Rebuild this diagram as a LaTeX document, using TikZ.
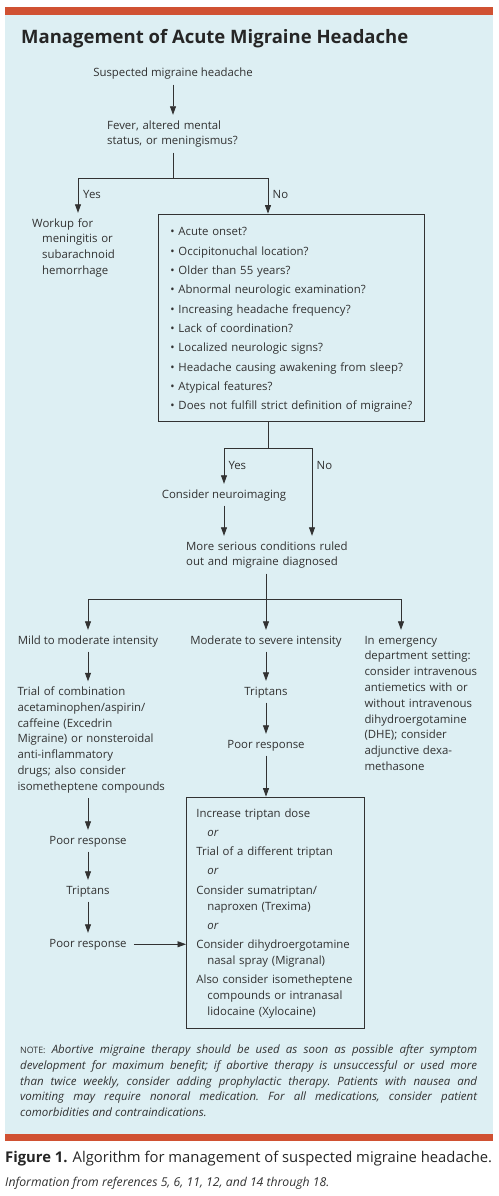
\documentclass[tikz,border=0pt]{standalone}
\usepackage{fontspec}
\setmainfont{Open Sans}
\usetikzlibrary{arrows.meta,positioning}

\definecolor{barred}{RGB}{208,81,50}
\definecolor{panel}{RGB}{221,239,243}
\definecolor{ink}{RGB}{50,50,50}

\newcommand{\bodysize}{\fontsize{11.4}{15.8}\selectfont}

\tikzset{
    inked/.style = {inner sep=0pt, text=ink, font=\bodysize},
    word/.style = {inked, text height=8pt, text depth=2.5pt, anchor=base},
    para/.style = {inked, text height=8pt, text width=#1, align=left, anchor=base west},
    flow/.style = {draw=ink, line width=0.8pt},
    arr/.style = {flow, -{Triangle[length=8.5pt,width=6pt]}, shorten >=6pt},
    fromtxt/.style = {shorten <=5pt},
    framebox/.style = {draw=ink, line width=0.8pt, inner ysep=0pt, text=ink, align=left, anchor=base west}
}

\begin{document}
\begin{tikzpicture}[x=1pt, y=-1pt]
    \useasboundingbox (0,0) rectangle (498,1196);
    \fill[barred] (5,7.3) rectangle (493,14.7);
    \fill[panel] (5,14.7) rectangle (493,1134.3);
    \fill[barred] (5,1134.3) rectangle (493,1141.3);

    \node[anchor=base west, inner sep=0pt, text=black!85, font=\bfseries\fontsize{18.5}{22}\selectfont] (title) at (21,43.3) {Management of Acute Migraine Headache};

    % first question
    \node[word] (suspected) at (173,77) {Suspected migraine headache};
    \node[para=165] (fever) at (107,129) {Fever, altered mental\\status, or meningismus?};
    \node[word, anchor=base west] (yes1) at (83,198) {Yes};
    \node[word, anchor=base west] (no1) at (272.5,198) {No};
    \node[para=105] (workup) at (32,227) {Workup for\\\hspace*{10pt}meningitis or\\\hspace*{10pt}subarachnoid\\\hspace*{10pt}hemorrhage};
    \node[framebox, inner xsep=12pt, text width=242pt, text height=21.7pt, text depth=185.3pt, font=\fontsize{11.4}{19.33}\selectfont] (redflags) at (158,235.7) {%
        \textbullet\ Acute onset?\\
        \textbullet\ Occipitonuchal location?\\
        \textbullet\ Older than 55 years?\\
        \textbullet\ Abnormal neurologic examination?\\
        \textbullet\ Increasing headache frequency?\\
        \textbullet\ Lack of coordination?\\
        \textbullet\ Localized neurologic signs?\\
        \textbullet\ Headache causing awakening from sleep?\\
        \textbullet\ Atypical features?\\
        \textbullet\ Does not fulfill strict definition of migraine?};

    % second question
    \node[word, anchor=base west] (yes2) at (228.3,469) {Yes};
    \node[word, anchor=base west] (no2) at (316.5,469) {No};
    \node[word] (neuro) at (224,498) {Consider neuroimaging};
    \node[para=195] (serious) at (186,550) {More serious conditions ruled\\out and migraine diagnosed};

    % three columns
    \node[word] (mild) at (88,644) {Mild to moderate intensity};
    \node[word] (moderate) at (266,644) {Moderate to severe intensity};
    \node[para=128] (emergency) at (364.3,644) {In emergency\\department setting:\\consider intravenous\\antiemetics with or\\without intravenous\\dihydroergotamine\\(DHE); consider\\adjunctive dexa-\\methasone};
    \node[para=165] (trial) at (17.3,695.5) {Trial of combination\\acetaminophen/aspirin/\\caffeine (Excedrin\\Migraine) or nonsteroidal\\anti-inflammatory\\drugs; also consider\\isometheptene compounds};
    \node[word] (poor1) at (88,844) {Poor response};
    \node[word] (triptans1) at (88,894) {Triptans};
    \node[word] (poor2) at (88,947) {Poor response};
    \node[word] (triptans2) at (266,695) {Triptans};
    \node[word] (poor3) at (266,748) {Poor response};
    \node[framebox, inner xsep=10pt, text width=158pt, text height=20pt, text depth=211pt, font=\bodysize] (options) at (186,817) {%
        Increase triptan dose\\[3.5pt]
        \hspace*{11pt}\textit{or}\\[3.5pt]
        Trial of a different triptan\\[3.5pt]
        \hspace*{11pt}\textit{or}\\[3.5pt]
        Consider sumatriptan/\\
        \hspace*{11pt}naproxen (Trexima)\\[3.5pt]
        \hspace*{11pt}\textit{or}\\[3.5pt]
        Consider dihydroergotamine\\
        \hspace*{11pt}nasal spray (Migranal)\\[3.5pt]
        Also consider isometheptene\\
        \hspace*{11pt}compounds or intranasal\\
        \hspace*{11pt}lidocaine (Xylocaine)};

    % connectors
    \coordinate (fork1) at (173,178);
    \coordinate (fork2) at (268,448);
    \coordinate (fork3) at (266,599);
    \coordinate (forkL) at (88,599);
    \coordinate (forkR) at (401,599);
    \draw[arr, fromtxt] (suspected.south) -- (suspected.south |- fever.north);
    \draw[flow, fromtxt] (fork1 |- fever.south) -- (fork1);
    \draw[arr] (fork1) -| ([xshift=46pt]workup.north west);
    \draw[arr, shorten >=0pt] (fork1) -| ([xshift=110pt]redflags.north west);
    \draw[flow] (fork2 |- redflags.south) -- (fork2);
    \draw[arr] (fork2) -| (neuro.north);
    \draw[arr] (fork2) -| ([xshift=126pt]serious.north west);
    \draw[arr, fromtxt] (neuro.south) -- (neuro.south |- serious.north);
    \draw[flow, fromtxt] (fork3 |- serious.south) -- (fork3);
    \draw[flow] (forkL) -- (forkR);
    \draw[arr] (forkL) -- (mild.north);
    \draw[arr] (fork3) -- (moderate.north);
    \draw[arr] (forkR) -- (forkR |- emergency.north);
    \draw[arr, fromtxt] (mild.south) -- (mild.south |- trial.north);
    \draw[arr, fromtxt] (poor1.north |- trial.south) -- (poor1.north);
    \draw[arr, fromtxt] (poor1.south) -- (triptans1.north);
    \draw[arr, fromtxt] (triptans1.south) -- (poor2.north);
    \draw[arr, shorten <=7pt, shorten >=0pt] (poor2.east) -- (poor2.east -| options.west);
    \draw[arr, fromtxt] (moderate.south) -- (triptans2.north);
    \draw[arr, fromtxt] (triptans2.south) -- (poor3.north);
    \draw[arr, fromtxt, shorten >=0pt] (poor3.south) -- (poor3.south |- options.north);

    % note and caption
    \node[inked, anchor=base west, text width=457pt, align=justify, font=\itshape\fontsize{11.5}{15.8}\selectfont] (note) at (20,1053.5) {\frenchspacing\tolerance=9999\hyphenpenalty=10000%
        {\upshape\fontsize{8.8}{15.8}\selectfont NOTE:} Abortive migraine therapy should be used as soon as possible after symptom\linebreak
        development for maximum benefit; if abortive therapy is unsuccessful or used more\linebreak
        than twice weekly, consider adding prophylactic therapy. Patients with nausea and\linebreak
        vomiting may require nonoral medication. For all medications, consider patient\linebreak
        comorbidities and contraindications.};
    \node[anchor=base west, inner sep=0pt, text=black!85, font=\fontsize{14.8}{18}\selectfont] (caption) at (5,1162) {\textbf{Figure 1.} Algorithm for management of suspected migraine headache.};
    \node[anchor=base west, inner sep=0pt, text=ink, font=\itshape\fontsize{12.2}{14}\selectfont] (source) at (5,1186.5) {Information from references 5, 6, 11, 12, and 14 through 18.};
\end{tikzpicture}
\end{document}
